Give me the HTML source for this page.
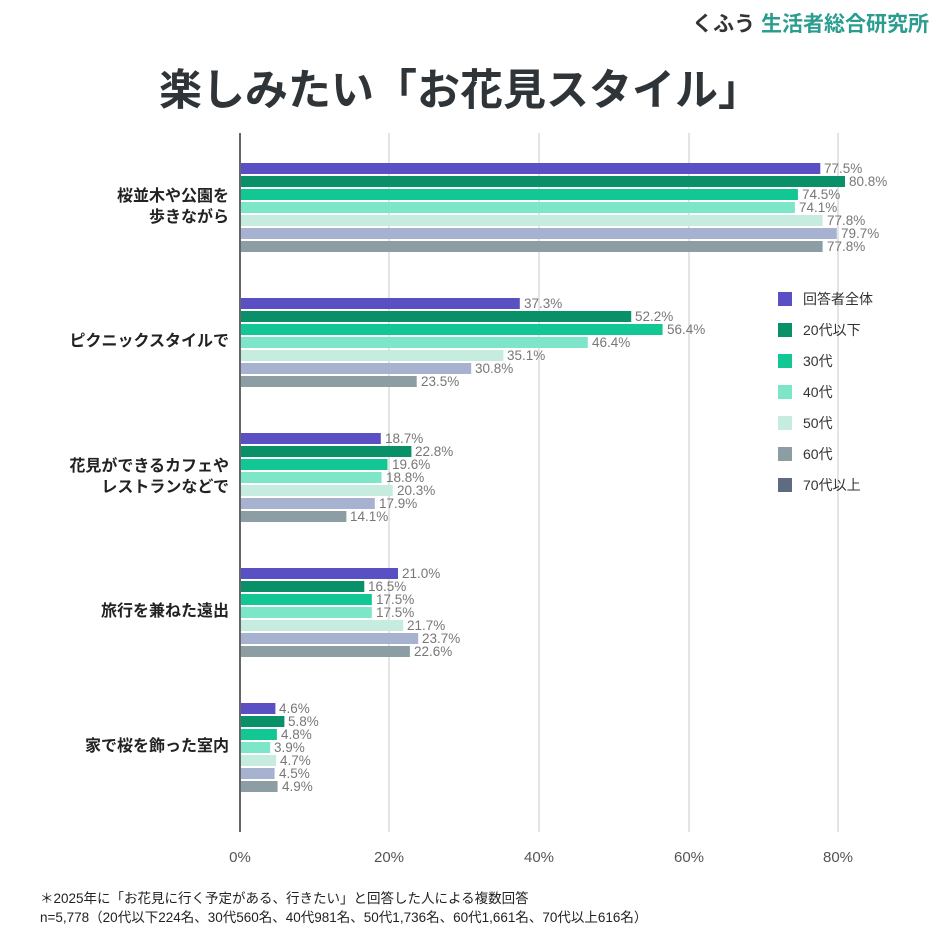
<!DOCTYPE html>
<html><head><meta charset="utf-8"><style>
body{margin:0;width:944px;height:944px;background:#fff;overflow:hidden;font-family:"Liberation Sans","Noto Sans CJK JP",sans-serif}
</style></head><body>
<svg width="944" height="944" xmlns="http://www.w3.org/2000/svg" font-family="Liberation Sans, Noto Sans CJK JP, sans-serif">
<text x="929" y="31" text-anchor="end" font-size="21" font-weight="bold"><tspan fill="#333">くふう </tspan><tspan fill="#2a9d8f">生活者総合研究所</tspan></text>
<text x="460" y="105" text-anchor="middle" font-size="43" font-weight="bold" fill="#2f3438">楽しみたい「お花見スタイル」</text>
<g stroke="#dcdcdc" stroke-width="1.5">
<line x1="389" y1="133" x2="389" y2="832"/><line x1="539" y1="133" x2="539" y2="832"/><line x1="689" y1="133" x2="689" y2="832"/><line x1="838" y1="133" x2="838" y2="832"/>
</g>
<line x1="240" y1="133" x2="240" y2="832" stroke="#666" stroke-width="2"/>
<g font-size="15" fill="#555" text-anchor="middle">
<text x="240" y="862">0%</text><text x="389" y="862">20%</text><text x="539" y="862">40%</text><text x="689" y="862">60%</text><text x="838" y="862">80%</text>
</g>
<g>
<rect x="241" y="163" width="579.3" height="11" fill="#5b4fc4"/>
<rect x="241" y="176" width="604.0" height="11" fill="#0a9068"/>
<rect x="241" y="189" width="556.9" height="11" fill="#12c794"/>
<rect x="241" y="202" width="553.9" height="11" fill="#7de6c8"/>
<rect x="241" y="215" width="581.6" height="11" fill="#c6ece0"/>
<rect x="241" y="228" width="595.8" height="11" fill="#a6b2d0"/>
<rect x="241" y="241" width="581.6" height="11" fill="#8c9ea3"/>
<rect x="241" y="298" width="278.8" height="11" fill="#5b4fc4"/>
<rect x="241" y="311" width="390.2" height="11" fill="#0a9068"/>
<rect x="241" y="324" width="421.6" height="11" fill="#12c794"/>
<rect x="241" y="337" width="346.8" height="11" fill="#7de6c8"/>
<rect x="241" y="350" width="262.4" height="11" fill="#c6ece0"/>
<rect x="241" y="363" width="230.2" height="11" fill="#a6b2d0"/>
<rect x="241" y="376" width="175.7" height="11" fill="#8c9ea3"/>
<rect x="241" y="433" width="139.8" height="11" fill="#5b4fc4"/>
<rect x="241" y="446" width="170.4" height="11" fill="#0a9068"/>
<rect x="241" y="459" width="146.5" height="11" fill="#12c794"/>
<rect x="241" y="472" width="140.5" height="11" fill="#7de6c8"/>
<rect x="241" y="485" width="151.7" height="11" fill="#c6ece0"/>
<rect x="241" y="498" width="133.8" height="11" fill="#a6b2d0"/>
<rect x="241" y="511" width="105.4" height="11" fill="#8c9ea3"/>
<rect x="241" y="568" width="157.0" height="11" fill="#5b4fc4"/>
<rect x="241" y="581" width="123.3" height="11" fill="#0a9068"/>
<rect x="241" y="594" width="130.8" height="11" fill="#12c794"/>
<rect x="241" y="607" width="130.8" height="11" fill="#7de6c8"/>
<rect x="241" y="620" width="162.2" height="11" fill="#c6ece0"/>
<rect x="241" y="633" width="177.2" height="11" fill="#a6b2d0"/>
<rect x="241" y="646" width="168.9" height="11" fill="#8c9ea3"/>
<rect x="241" y="703" width="34.4" height="11" fill="#5b4fc4"/>
<rect x="241" y="716" width="43.4" height="11" fill="#0a9068"/>
<rect x="241" y="729" width="35.9" height="11" fill="#12c794"/>
<rect x="241" y="742" width="29.2" height="11" fill="#7de6c8"/>
<rect x="241" y="755" width="35.1" height="11" fill="#c6ece0"/>
<rect x="241" y="768" width="33.6" height="11" fill="#a6b2d0"/>
<rect x="241" y="781" width="36.6" height="11" fill="#8c9ea3"/>
</g>
<g font-size="13.5" fill="#777">
<text x="824" y="173">77.5%</text><text x="849" y="186">80.8%</text><text x="802" y="199">74.5%</text><text x="799" y="212">74.1%</text><text x="827" y="225">77.8%</text><text x="841" y="238">79.7%</text><text x="827" y="251">77.8%</text>
<text x="524" y="308">37.3%</text><text x="635" y="321">52.2%</text><text x="667" y="334">56.4%</text><text x="592" y="347">46.4%</text><text x="507" y="360">35.1%</text><text x="475" y="373">30.8%</text><text x="421" y="386">23.5%</text>
<text x="385" y="443">18.7%</text><text x="415" y="456">22.8%</text><text x="392" y="469">19.6%</text><text x="386" y="482">18.8%</text><text x="397" y="495">20.3%</text><text x="379" y="508">17.9%</text><text x="350" y="521">14.1%</text>
<text x="402" y="578">21.0%</text><text x="368" y="591">16.5%</text><text x="376" y="604">17.5%</text><text x="376" y="617">17.5%</text><text x="407" y="630">21.7%</text><text x="422" y="643">23.7%</text><text x="414" y="656">22.6%</text>
<text x="279" y="713">4.6%</text><text x="288" y="726">5.8%</text><text x="281" y="739">4.8%</text><text x="274" y="752">3.9%</text><text x="280" y="765">4.7%</text><text x="279" y="778">4.5%</text><text x="282" y="791">4.9%</text>
</g>
<g font-size="16" fill="#222" text-anchor="end" font-weight="bold">
<text x="229" y="201">桜並木や公園を</text><text x="229" y="222">歩きながら</text>
<text x="229" y="346">ピクニックスタイルで</text>
<text x="229" y="471">花見ができるカフェや</text><text x="229" y="492">レストランなどで</text>
<text x="229" y="616">旅行を兼ねた遠出</text>
<text x="229" y="751">家で桜を飾った室内</text>
</g>
<g font-size="14" fill="#333">
<rect x="778" y="292" width="14" height="14" fill="#5b4fc4"/><text x="803" y="304">回答者全体</text>
<rect x="778" y="323" width="14" height="14" fill="#0a9068"/><text x="803" y="335">20代以下</text>
<rect x="778" y="354" width="14" height="14" fill="#12c794"/><text x="803" y="366">30代</text>
<rect x="778" y="385" width="14" height="14" fill="#7de6c8"/><text x="803" y="397">40代</text>
<rect x="778" y="416" width="14" height="14" fill="#c6ece0"/><text x="803" y="428">50代</text>
<rect x="778" y="447" width="14" height="14" fill="#8c9ea3"/><text x="803" y="459">60代</text>
<rect x="778" y="478" width="14" height="14" fill="#5f6b80"/><text x="803" y="490">70代以上</text>
</g>
<g font-size="13.5" fill="#222">
<text x="40" y="903">＊2025年に「お花見に行く予定がある、行きたい」と回答した人による複数回答</text>
<text x="40" y="922">n=5,778（20代以下224名、30代560名、40代981名、50代1,736名、60代1,661名、70代以上616名）</text>
</g>
</svg>
</body></html>
